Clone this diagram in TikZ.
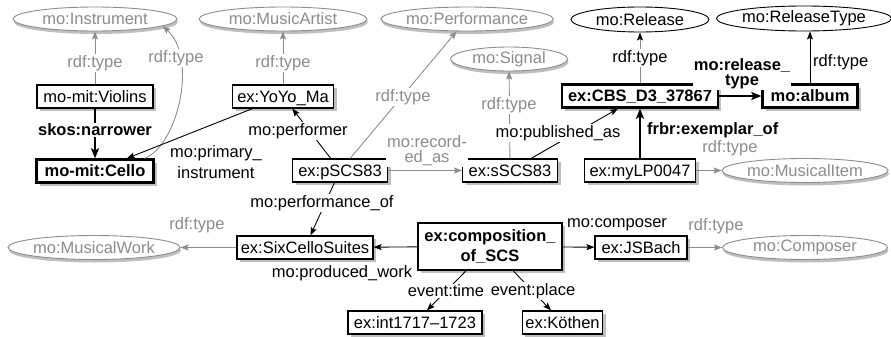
\documentclass[tikz,border=0pt]{standalone}
\usepackage{fontspec}
\setmainfont{Liberation Sans}
\usepackage{xcolor}
\usepackage{tikz}
\usetikzlibrary{arrows.meta}
\usetikzlibrary{shapes,shadows}

\definecolor{typegray}{gray}{0.55}
\definecolor{shadegray}{gray}{0.75}

\newcommand{\lblfont}{\fontsize{16.5}{17}\selectfont}

\tikzset{
  res/.style={draw, line width=1.1pt, fill=white, font=\lblfont, inner xsep=3pt, inner ysep=3.5pt,
    text height=13.5pt, text depth=2.5pt,
    drop shadow={shadow xshift=3pt, shadow yshift=-3pt, fill=shadegray, opacity=1}},
  keyres/.style={res, line width=2.3pt, font=\lblfont\bfseries},
  cls/.style={ellipse, draw=typegray, text=typegray, line width=0.9pt, fill=white, font=\lblfont,
    inner sep=0pt, minimum height=24pt,
    drop shadow={shadow xshift=1pt, shadow yshift=-3pt, fill=shadegray, opacity=1}},
  keycls/.style={ellipse, draw, line width=0.9pt, fill=white, font=\lblfont, inner sep=0pt, minimum height=25pt},
  rel/.style={line width=0.9pt, -{Stealth[length=8pt,width=6pt,inset=1.5pt]}},
  keyrel/.style={line width=2.3pt, -{Stealth[length=10pt,width=8pt,inset=2pt]}},
  typerel/.style={rel, draw=typegray},
  halfrel/.style={line width=0.9pt, draw=typegray, -{Stealth[length=8pt,width=6pt,inset=1.5pt,color=black]}},
  lbl/.style={font=\lblfont, fill=white, inner sep=1pt, align=center},
  keylbl/.style={lbl, font=\lblfont\bfseries},
  typelbl/.style={lbl, text=typegray},
}

\begin{document}
\begin{tikzpicture}[x=1pt,y=-1pt]
\useasboundingbox (0,0) rectangle (891,337);

\node[cls, minimum width=164pt] (instr) at (95,19) {mo:Instrument};
\node[cls, minimum width=168pt] (artist) at (283,19) {mo:MusicArtist};
\node[cls, minimum width=170pt] (perf) at (467,19) {mo:Performance};
\node[cls, minimum width=117pt] (signal) at (509,59) {mo:Signal};
\node[keycls, minimum width=138pt] (release) at (640,19.5) {mo:Release};
\node[keycls, minimum width=163pt] (rtype) at (804,18.5) {mo:ReleaseType};
\node[cls, minimum width=166pt] (item) at (805,170.5) {mo:MusicalItem};
\node[cls, minimum width=172pt] (work) at (94,247.5) {mo:MusicalWork};
\node[cls, minimum width=165pt] (composer) at (805,247.5) {mo:Composer};

\node[res, minimum width=116pt] (violins) at (95,96.5) {mo-mit:Violins};
\node[keyres, minimum width=117pt] (cello) at (95,171) {mo-mit:Cello};
\node[res, minimum width=101pt] (yoyo) at (283,96.5) {ex:YoYo\_Ma};
\node[res, minimum width=95pt] (pscs) at (340,170.5) {ex:pSCS83};
\node[res, minimum width=95pt] (sscs) at (510,170.5) {ex:sSCS83};
\node[keyres, minimum width=156pt] (cbs) at (640,96) {ex:CBS\_D3\_37867};
\node[keyres, minimum width=95pt] (album) at (810,96) {mo:album};
\node[res, minimum width=111pt] (mylp) at (640,170.5) {ex:myLP0047};
\node[res, minimum width=136pt] (suites) at (305,247.5) {ex:SixCelloSuites};
\node[keyres, minimum width=144pt, minimum height=47pt, align=center, inner ysep=5pt, text height={}, text depth={},
  font=\fontsize{16.5}{20}\selectfont\bfseries] (comp) at (490,246.5) {ex:composition\_\\of\_SCS};
\node[res, minimum width=92pt] (jsbach) at (641,247.5) {ex:JSBach};
\node[res, minimum width=134pt] (int) at (415,322.5) {ex:int1717--1723};
\node[res, minimum width=79pt] (koethen) at (562.5,322.5) {ex:Köthen};

\draw[typerel] (violins) -- (instr);
\draw[typerel] ([xshift=-10pt]cello.north east) .. controls (178,145) and (198,58) .. (instr.-6);
\draw[keyrel] (violins) -- (cello);
\draw[rel] (yoyo) -- (cello);
\draw[typerel] (yoyo) -- (artist);
\draw[rel] (pscs) -- (yoyo);
\draw[typerel] (pscs) -- (perf);
\draw[typerel] (pscs) -- (sscs);
\draw[typerel] (sscs) -- (signal);
\draw[rel] (sscs) -- (cbs);
\draw[halfrel] (cbs) -- (release);
\draw[keyrel] (cbs) -- (album);
\draw[rel] (album.north) -- (album.north |- rtype.south);
\draw[keyrel] (mylp) -- (cbs);
\draw[typerel] (mylp) -- (item);
\draw[rel] (pscs) -- (suites);
\draw[typerel] (suites) -- (work);
\draw[rel] (comp) -- (suites);
\draw[rel] (comp) -- (jsbach);
\draw[typerel] (jsbach) -- (composer);
\draw[rel] (comp) -- (int);
\draw[rel] (comp) -- (koethen);

\node[typelbl] (t1) at (95,63) {rdf:type};
\node[typelbl] (t2) at (176,58) {rdf:type};
\node[keylbl] (n1) at (95,130) {skos:narrower};
\node[lbl, font=\fontsize{16.5}{21.5}\selectfont] (n2) at (216,162) {mo:primary\_\\instrument};
\node[typelbl] (t3) at (283,63) {rdf:type};
\node[lbl] (n3) at (298,131) {mo:performer};
\node[typelbl] (t4) at (403,97) {rdf:type};
\node[typelbl, font=\fontsize{16.5}{15}\selectfont] (n4) at (427,151) {mo:record-\\ed\_as};
\node[typelbl] (t5) at (509,105) {rdf:type};
\node[lbl] (n5) at (558,133) {mo:published\_as};
\node[lbl] (t6) at (640,58) {rdf:type};
\node[keylbl, font=\fontsize{16.5}{15}\selectfont\bfseries] (n6) at (742,73.5) {mo:release\_\\type};
\node[lbl, anchor=west] (t7) at (812,62) {rdf:type};
\node[keylbl, anchor=west] (n7) at (646,130) {frbr:exemplar\_of};
\node[typelbl] (t8) at (730,148) {rdf:type};
\node[lbl] (n8) at (322,203) {mo:performance\_of};
\node[typelbl] (t9) at (197,225) {rdf:type};
\node[lbl] (n9) at (342,273) {mo:produced\_work};
\node[lbl] (n10) at (617,225) {mo:composer};
\node[typelbl] (t10) at (716,226) {rdf:type};
\node[lbl] (n11) at (446,291) {event:time};
\node[lbl] (n12) at (533,291) {event:place};
\end{tikzpicture}
\end{document}
